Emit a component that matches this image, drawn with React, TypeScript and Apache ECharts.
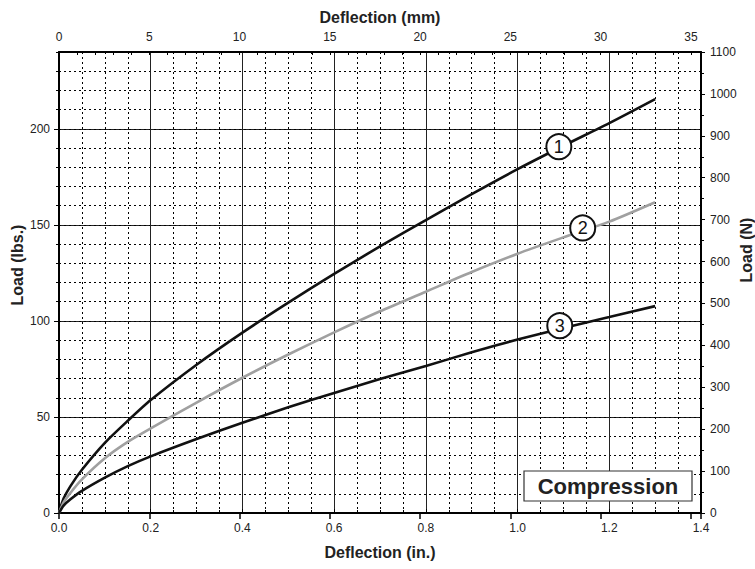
import React, { useEffect, useRef } from "react";
import * as echarts from "echarts";

// Deflection (in.) sample positions
const inches = [0, 0.01, 0.025, 0.05, 0.1, 0.15, 0.2, 0.3, 0.4, 0.5, 0.6, 0.7, 0.8, 0.9, 1.0, 1.1, 1.2, 1.3];
// Load (lbs.) for each curve
const curve1 = [0, 7.5, 14, 22.5, 36.5, 48, 58.8, 77.2, 93.9, 109.5, 124.5, 138.8, 152.5, 166, 179, 191.2, 203, 215.5];
const curve2 = [0, 5.5, 10.5, 17.5, 28.5, 37, 44, 57.5, 70.4, 82.5, 94, 105, 115.2, 125.5, 135, 143.5, 151.7, 161.8];
const curve3 = [0, 3.8, 7.1, 11.5, 18.4, 24.4, 29.5, 38.5, 47, 55, 62.5, 69.7, 76.5, 83.7, 90.3, 96.3, 102, 107.7];

// Circled curve labels: [in., lbs., label]
const labelX = [1.09, 1.142, 1.092];
const labelY = [190.7, 148.4, 97.5];
const labelText = ["1", "2", "3"];

const FONT = "'Liberation Sans', Arial, Helvetica, sans-serif";

export default function App() {
  const ref = useRef<HTMLDivElement>(null);

  useEffect(() => {
    document.body.style.margin = "0";
    if (!ref.current) return;
    const chart = echarts.init(ref.current, undefined, { renderer: "svg" });

    const lineData = (ys: number[]) => inches.map((x, i) => [x, ys[i]]);
    const labelStyle = { fontFamily: FONT, fontSize: 12, color: "#222" };
    const axisLine = { show: true, onZero: false, lineStyle: { color: "#000", width: 2 } };
    const dotted = { show: true, lineStyle: { color: "#000", width: 1, type: [2, 3] as any } };

    chart.setOption({
      animation: false,
      backgroundColor: "#fff",
      textStyle: { fontFamily: FONT },
      grid: { left: 59, right: 54, top: 52, bottom: 56, containLabel: false },
      xAxis: [
        {
          type: "value",
          position: "bottom",
          min: 0,
          max: 1.4,
          interval: 0.2,
          axisLine,
          axisTick: { show: true, inside: true, length: 4, lineStyle: { color: "#000" } },
          minorTick: { show: true, splitNumber: 4, length: 3, lineStyle: { color: "#000" } },
          axisLabel: { ...labelStyle, margin: 9, formatter: (v: number) => v.toFixed(1) },
          splitLine: { show: true, lineStyle: { color: "#222", width: 1 } },
          minorSplitLine: dotted,
          name: "Deflection (in.)",
          nameLocation: "middle",
          nameGap: 31,
          nameTextStyle: { fontFamily: FONT, fontSize: 16, fontWeight: "bold", color: "#222" },
        },
        {
          type: "value",
          position: "top",
          min: 0,
          max: 35.56,
          interval: 1,
          axisLine,
          axisTick: { show: true, inside: true, length: 3, lineStyle: { color: "#000" } },
          axisLabel: {
            ...labelStyle,
            margin: 9,
            interval: 0,
            formatter: (v: number) => (Math.abs(v % 5) < 1e-6 ? String(Math.round(v)) : ""),
          },
          splitLine: { show: false },
          name: "Deflection (mm)",
          nameLocation: "middle",
          nameGap: 27,
          nameTextStyle: { fontFamily: FONT, fontSize: 16, fontWeight: "bold", color: "#222" },
        },
        {
          type: "value",
          position: "top",
          min: 0,
          max: 35.56,
          interval: 5,
          axisLine: { show: false },
          axisTick: { show: true, inside: true, length: 6, lineStyle: { color: "#000", width: 1.5 } },
          axisLabel: { show: false },
          splitLine: { show: false },
        },
      ],
      yAxis: [
        {
          type: "value",
          position: "left",
          min: 0,
          max: 240,
          interval: 50,
          axisLine,
          axisTick: { show: true, inside: false, length: 5, lineStyle: { color: "#000" } },
          axisLabel: { ...labelStyle, margin: 9, showMaxLabel: false },
          splitLine: { show: true, lineStyle: { color: "#222", width: 1 } },
        },
        {
          type: "value",
          position: "left",
          min: 0,
          max: 240,
          interval: 10,
          axisLine: { show: false },
          axisTick: { show: true, inside: false, length: 3, lineStyle: { color: "#000" } },
          axisLabel: { show: false },
          splitLine: dotted,
        },
        {
          type: "value",
          position: "right",
          min: 0,
          max: 1100,
          interval: 100,
          axisLine,
          axisTick: { show: true, inside: false, length: 4, lineStyle: { color: "#000" } },
          minorTick: { show: true, splitNumber: 2, length: 3, lineStyle: { color: "#000" } },
          axisLabel: { ...labelStyle, margin: 9, formatter: (v: number) => String(v) },
          splitLine: { show: false },
        },
      ],
      series: [
        {
          type: "line",
          name: "1",
          xAxisIndex: 0,
          yAxisIndex: 0,
          data: lineData(curve1),
          smooth: 0.25,
          showSymbol: false,
          lineStyle: { color: "#111", width: 2.6 },
          z: 3,
        },
        {
          type: "line",
          name: "2",
          xAxisIndex: 0,
          yAxisIndex: 0,
          data: lineData(curve2),
          smooth: 0.25,
          showSymbol: false,
          lineStyle: { color: "#a0a0a0", width: 2.6 },
          z: 3,
        },
        {
          type: "line",
          name: "3",
          xAxisIndex: 0,
          yAxisIndex: 0,
          data: lineData(curve3),
          smooth: 0.25,
          showSymbol: false,
          lineStyle: { color: "#111", width: 2.6 },
          z: 3,
        },
        {
          type: "scatter",
          xAxisIndex: 0,
          yAxisIndex: 0,
          data: labelX.map((x, i) => ({ value: [x, labelY[i]], name: labelText[i] })),
          symbol: "circle",
          symbolSize: 25,
          itemStyle: { color: "#fff", borderColor: "#111", borderWidth: 2, opacity: 1 },
          label: {
            show: true,
            position: "inside",
            formatter: (p: any) => p.name,
            fontFamily: FONT,
            fontSize: 18,
            color: "#111",
          },
          z: 5,
        },
      ],
      graphic: [
        {
          type: "rect",
          shape: { x: 524, y: 471, width: 168, height: 30 },
          style: { fill: "#fff", stroke: "#333", lineWidth: 1.2 },
          z: 10,
        },
        {
          type: "text",
          x: 608,
          y: 486,
          style: {
            text: "Compression",
            align: "center",
            verticalAlign: "middle",
            fontFamily: FONT,
            fontSize: 22,
            fontWeight: "bold",
            fill: "#222",
          },
          z: 11,
        },
        {
          type: "text",
          x: 17,
          y: 265,
          rotation: Math.PI / 2,
          style: {
            text: "Load (lbs.)",
            align: "center",
            verticalAlign: "middle",
            fontFamily: FONT,
            fontSize: 16,
            fontWeight: "bold",
            fill: "#222",
          },
        },
        {
          type: "text",
          x: 746,
          y: 250,
          rotation: Math.PI / 2,
          style: {
            text: "Load (N)",
            align: "center",
            verticalAlign: "middle",
            fontFamily: FONT,
            fontSize: 16,
            fontWeight: "bold",
            fill: "#222",
          },
        },
      ],
    });

    return () => chart.dispose();
  }, []);

  return <div ref={ref} style={{ width: 755, height: 569 }} />;
}
